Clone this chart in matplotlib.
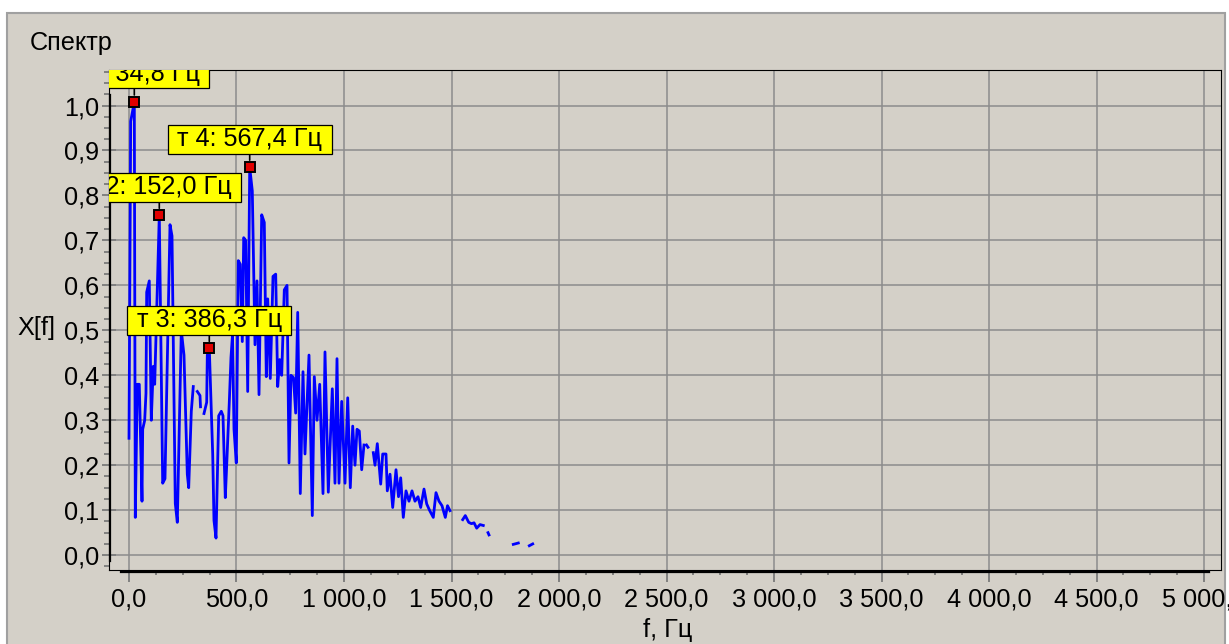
import numpy as np
import matplotlib
matplotlib.use("Agg")
import matplotlib.pyplot as plt
from matplotlib.patches import Rectangle
from matplotlib.ticker import MultipleLocator, FuncFormatter

nan = np.nan

# spectrum, Hz / amplitude (nan = gap in the trace)
freq_hz = [
    0, 7.9, 24.7, 29.3, 38.6, 47.9, 60.5, 63.7, 73, 79, 82.3, 94.4, 103.7, 113, 119.5,
    140.9, 156.7, 167.4, 190.7, 200, 215.3, 224.7, 243.3, 255.8, 271.2, 277.7, 289.8, 299,
    nan, 317.7, 330.2, 332.6,
    nan, 348.8, 361.4, 364.2, 373.5, 380, 389.3, 395.3, 404.7, 417.2, 429.3, 437.2, 447.9,
    452.6, 466.5, 474.4, 481.4, 488.4, 499, 508.4, 517.7, 527, 533.5, 542.8, 552.1, 561.4,
    573.5, 586, 595.3, 604.7, 617.2, 629.3, 638.6, 645.1, 657.2, 669.8, 682.3, 691.6, 700.9,
    710.2, 722.3, 734.9, 744.2, 753.5, 765.1, 775.3, 784.7, 796.7, 809.3, 818.6, 837.2,
    852.6, 861.9, 874.4, 887, 902.3, 911.6, 927, 945.6, 958.1, 967.4, 976.7, 989.3, 1004.7,
    1017.2, 1029.3, 1040.5, 1051.2, 1060.5, 1071.2, 1082.3, 1093,
    nan, 1104.7, 1111.6,
    nan, 1136.3, 1144.2, 1154.9, 1170.7, 1180, 1195.3, 1201.4, 1214, 1226.5, 1241.9, 1253.5,
    1263.7, 1275.8, 1288.4, 1302.3, 1316.3, 1330.2, 1344.2, 1356.7, 1372.1, 1384.7, 1397.7,
    1415.3, 1427.9, 1441.9, 1455.8, 1471.2, 1481.4, 1493,
    nan, 1552.1, 1564.2, 1580, 1593, 1604.7, 1617.2, 1632.6, 1647.9,
    nan, 1669.8, 1674.4,
    nan, 1787.4, 1810.7,
    nan, 1861.9, 1877.7,
]
amp = [
    0.26, 0.965, 1.008, 0.084, 0.38, 0.38, 0.12, 0.28, 0.30, 0.36, 0.585, 0.61, 0.30, 0.42, 0.38,
    0.756, 0.16, 0.17, 0.735, 0.71, 0.115, 0.073, 0.50, 0.445, 0.18, 0.15, 0.32, 0.375,
    nan, 0.364, 0.355, 0.33,
    nan, 0.315, 0.34, 0.445, 0.46, 0.364, 0.225, 0.077, 0.038, 0.31, 0.32, 0.31, 0.128,
    0.18, 0.34, 0.44, 0.49, 0.28, 0.205, 0.655, 0.647, 0.475, 0.706, 0.70, 0.364, 0.863,
    0.81, 0.468, 0.61, 0.357, 0.757, 0.74, 0.397, 0.57, 0.393, 0.62, 0.625, 0.375, 0.435,
    0.40, 0.59, 0.60, 0.205, 0.40, 0.395, 0.316, 0.54, 0.137, 0.408, 0.225, 0.445,
    0.088, 0.397, 0.30, 0.38, 0.137, 0.452, 0.14, 0.37, 0.16, 0.437, 0.16, 0.342, 0.16,
    0.35, 0.15, 0.287, 0.20, 0.28, 0.276, 0.19, 0.245,
    nan, 0.245, 0.24,
    nan, 0.228, 0.20, 0.248, 0.158, 0.225, 0.225, 0.143, 0.18, 0.106, 0.19, 0.13,
    0.172, 0.084, 0.143, 0.12, 0.143, 0.12, 0.13, 0.106, 0.147, 0.114, 0.10,
    0.084, 0.139, 0.12, 0.11, 0.084, 0.11, 0.099,
    nan, 0.079, 0.088, 0.073, 0.07, 0.072, 0.06, 0.068, 0.066,
    nan, 0.05, 0.045,
    nan, 0.024, 0.027,
    nan, 0.021, 0.025,
]

# marked points
mark_freq = [24.7, 140.9, 373.5, 561.4]
mark_amp = [1.008, 0.756, 0.46, 0.863]
mark_text = ["т 1: 34,8 Гц", "т 2: 152,0 Гц", "т 3: 386,3 Гц", "т 4: 567,4 Гц"]

x_ticks = [0, 500, 1000, 1500, 2000, 2500, 3000, 3500, 4000, 4500, 5000]
y_ticks = [0.0, 0.1, 0.2, 0.3, 0.4, 0.5, 0.6, 0.7, 0.8, 0.9, 1.0]

BG = "#D4D0C8"
GRID = "#8C8C8C"
plt.rcParams["font.family"] = ["Liberation Sans", "DejaVu Sans"]
FS = 18.2

W, H = 1229, 644
fig = plt.figure(figsize=(W / 100, H / 100), dpi=100, facecolor="white")
# grey panel behind everything
fig.add_artist(Rectangle((7 / W, -0.01), 1218 / W, (H - 13) / H + 0.01,
                         transform=fig.transFigure, facecolor=BG,
                         edgecolor="#A0A0A0", lw=1.5, zorder=-10))

ax = fig.add_axes([109 / W, (H - 570) / H, 1112 / W, 500 / H])
ax.set_zorder(1)
ax.set_facecolor(BG)
for s in ax.spines.values():
    s.set_color("black")
    s.set_linewidth(0.8)

ax.plot(freq_hz, amp, color="#0000FF", lw=2.0, zorder=3)

for f, a, t in zip(mark_freq, mark_amp, mark_text):
    ax.plot(f, a, marker="s", ms=7.8, mfc="#E00000", mec="black", mew=1.4, zorder=5)
    ax.annotate(" " + t + " ", xy=(f, a), xytext=(0, 28), textcoords="offset pixels",
                ha="center", va="center", fontsize=FS, clip_on=True, zorder=6,
                bbox=dict(boxstyle="square,pad=0.1", fc="#FFFF00", ec="black", lw=0.9),
                arrowprops=dict(arrowstyle="-", color="black", lw=1.2,
                                shrinkA=0, shrinkB=5))

ax.set_xlim(-93, 5079)
ax.set_ylim(-0.033, 1.079)
ax.set_xticks(x_ticks)
ax.set_yticks(y_ticks)
ax.xaxis.set_minor_locator(MultipleLocator(125))
ax.yaxis.set_minor_locator(MultipleLocator(0.025))


def fmt(v, pos):
    return f"{v:,.1f}".replace(",", " ").replace(".", ",")


ax.xaxis.set_major_formatter(FuncFormatter(fmt))
ax.yaxis.set_major_formatter(FuncFormatter(fmt))

ax.grid(True, which="major", color=GRID, lw=1.1)
ax.set_axisbelow(True)
ax.tick_params(axis="x", which="major", direction="out", length=8.5, width=1.4,
               color="#808080", labelsize=FS, pad=4)
ax.tick_params(axis="x", which="minor", direction="out", length=3.6, width=1.4,
               color="#808080")
ax.tick_params(axis="y", which="major", direction="inout", length=10.5, width=1.4,
               color="#808080", labelsize=FS, pad=2)
ax.tick_params(axis="y", which="minor", direction="out", length=3.6, width=1.4,
               color="#808080")

# thick axis lines inside the frame
ax.plot([0.0013, 0.0013], [0.018, 0.95], transform=ax.transAxes, color="black",
        lw=1.6, clip_on=False, zorder=4)
ax.plot([0.0108, 0.989], [-0.0034, -0.0034], transform=ax.transAxes, color="black",
        lw=1.6, clip_on=False, zorder=4)

fig.text(30 / W, 1 - 43 / H, "Спектр", fontsize=FS, ha="left", va="center")
fig.text(36 / W, 1 - 328 / H, "X[f]", fontsize=FS, ha="center", va="center")
fig.text(668 / W, 1 - 630 / H, "f, Гц", fontsize=FS, ha="center", va="center")

fig.savefig("out.png", dpi=100, facecolor=fig.get_facecolor())
